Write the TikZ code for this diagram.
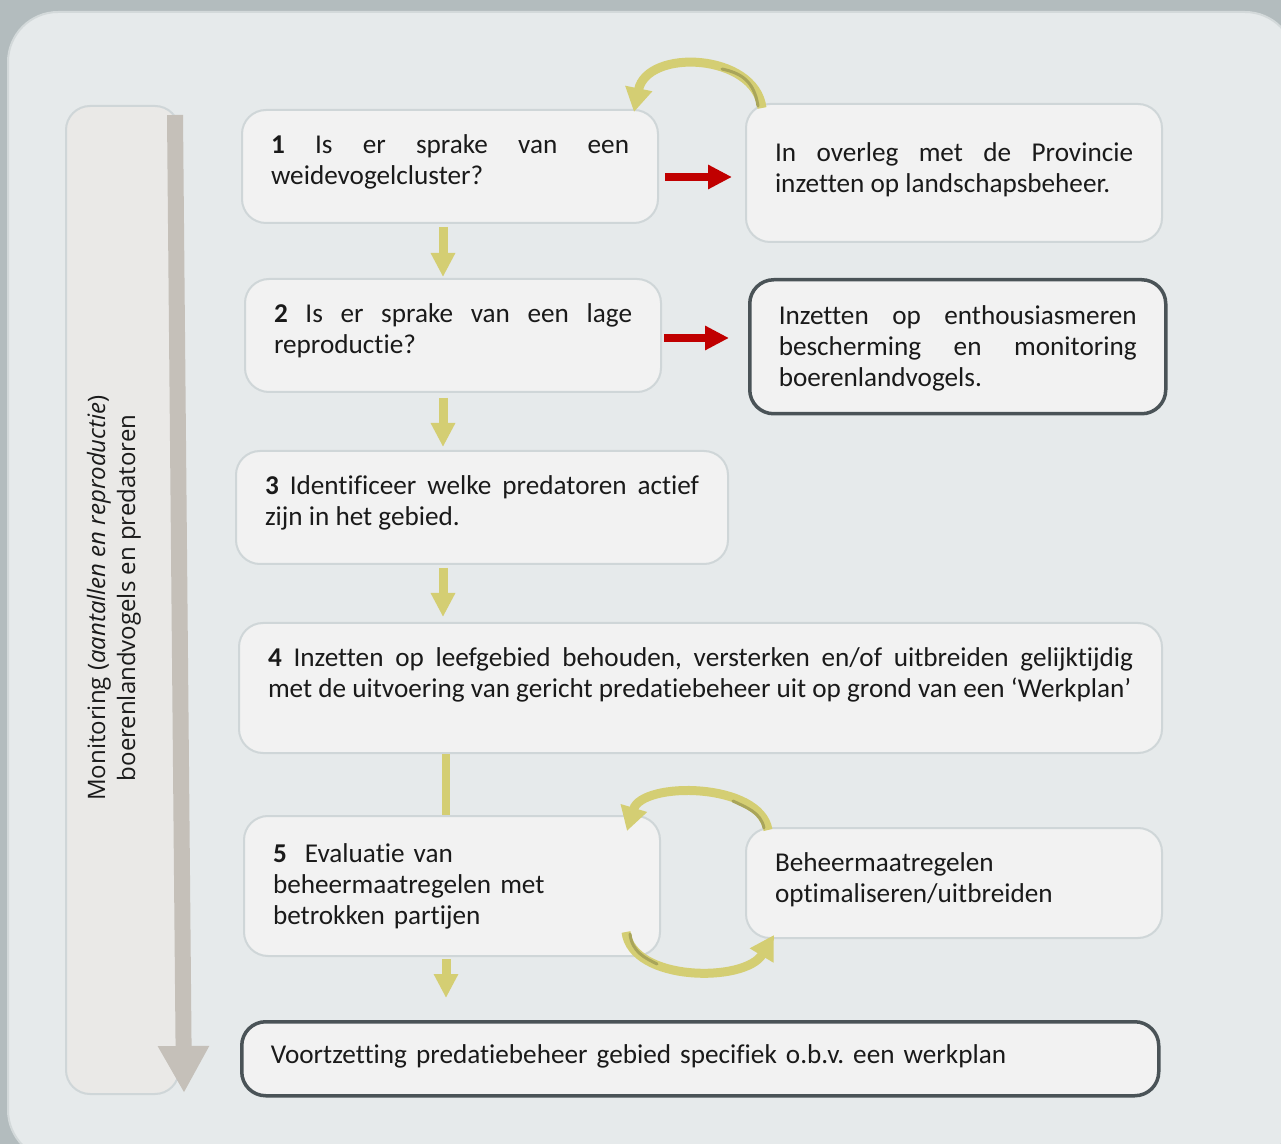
\documentclass[tikz,border=0pt]{standalone}
\usepackage{fontspec}
\setmainfont{Carlito}[Ligatures=NoCommon]
\newfontfamily\monfont{Open Sans}
\usetikzlibrary{arrows.meta}
\frenchspacing

\definecolor{outerbg}{HTML}{B3BCBE}
\definecolor{panel}{HTML}{E6EAEB}
\definecolor{panelline}{HTML}{D3D9DA}
\definecolor{boxfill}{HTML}{F2F2F2}
\definecolor{boxline}{HTML}{CFD6D8}
\definecolor{keyline}{HTML}{4A5357}
\definecolor{monfill}{HTML}{EAE9E7}
\definecolor{track}{HTML}{C5C0B9}
\definecolor{weide}{HTML}{D4CE73}
\definecolor{weidedark}{HTML}{A9A55A}
\definecolor{stopred}{HTML}{C00000}
\definecolor{ink}{HTML}{1A1A1A}

\begin{document}
\begin{tikzpicture}[x=0.5pt, y=-0.5pt,
        stepbox/.style={draw=boxline, line width=1pt, rounded corners=12pt, fill=boxfill, anchor=north west,
            inner xsep=14.5pt, inner ysep=0pt, align=justify, text=ink, font=\fontsize{13.6}{15.5}\selectfont},
        keybox/.style={stepbox, draw=keyline, line width=1.75pt},
        lift/.style={execute at end node={\endgraf\kern#1}},
        monbox/.style={draw=boxline, line width=1pt, rounded corners=12pt, fill=monfill, anchor=north west},
        flow/.style={draw=weide, line width=4.5pt, -{Triangle[length=12pt, width=11.5pt]}},
        nogo/.style={draw=stopred, line width=4pt, -{Triangle[length=12pt, width=11.5pt]}},
        turn/.style={draw=weide, line width=4.5pt, -{Triangle[length=12pt, width=13pt]}},
        turnshade/.style={draw=weidedark, line width=1.5pt, line cap=round},
        bigdown/.style={draw=track, line width=8pt, -{Triangle[length=23.5pt, width=24pt]}}
    ]
    \useasboundingbox (0,0) rectangle (1281,1144);
    \clip (0,0) rectangle (1281,1144);
    \fill[outerbg] (0,0) rectangle (1281,1144);
    \filldraw[fill=panel, draw=panelline, line width=1pt, rounded corners=25pt] (8,12) rectangle (1295,1160);

    % monitoring strip
    \node[monbox, minimum width=56.5pt, minimum height=494pt] (mon) at (65,105) {};
    \node[rotate=90, align=center, text=ink, font=\monfont\fontsize{12}{15}\selectfont] (montxt) at (114,598)
        {Monitoring (\textit{aantallen en reproductie})\\ boerenlandvogels en predatoren};
    \draw[bigdown] ([shift={(-5,10)}]mon.north east) -- ([shift={(4,-2)}]mon.south east);

    % steps
    \node[stepbox, lift=5pt, text width=179pt, minimum height=56.5pt] (q1) at (241,109)
        {\textbf{1} Is er sprake van een\linebreak weidevogelcluster?};
    \node[stepbox, lift=3pt, text width=179pt, minimum height=69pt] (r1) at (745,103)
        {In overleg met de Provincie\linebreak inzetten op landschapsbeheer.};
    \node[stepbox, lift=5pt, text width=179pt, minimum height=56.5pt] (q2) at (244,278)
        {\textbf{2} Is er sprake van een lage\linebreak reproductie?};
    \node[keybox, lift=-2pt, text width=179pt, minimum height=67pt] (r2) at (748,278)
        {Inzetten op enthousiasmeren\linebreak bescherming en monitoring\linebreak boerenlandvogels.};
    \node[stepbox, lift=5pt, text width=217pt, minimum height=56.5pt] (q3) at (235,450)
        {\textbf{3} Identificeer welke predatoren actief\linebreak zijn in het gebied.};
    \node[stepbox, lift=13pt, text width=432.5pt, minimum height=65pt] (q4) at (238,622)
        {\textbf{4} Inzetten op leefgebied behouden, versterken en/of uitbreiden gelijktijdig\linebreak
         met de uitvoering van gericht predatiebeheer uit op grond van een ‘Werkplan’};
    \node[stepbox, align=left, text width=179pt, minimum height=70pt] (q5) at (243,815)
        {\textbf{5}\ \ Evaluatie van\\ beheermaatregelen met\\ betrokken partijen};
    \node[stepbox, lift=3pt, align=left, text width=179pt, minimum height=55pt] (r5) at (745,827)
        {Beheermaatregelen\\ optimaliseren/uitbreiden};
    \node[keybox, lift=2pt, align=left, text width=429.5pt, minimum height=37pt] (final) at (240,1020)
        {Voortzetting predatiebeheer gebied specifiek o.b.v. een werkplan};

    % connectors
    \coordinate (col) at (443,0);
    \coordinate (colb) at (446,0);
    \coordinate (row1) at (0,177);
    \coordinate (row2) at (0,338);
    \draw[flow, shorten <=1.5pt, shorten >=0.5pt] (q1.south -| col) -- (q2.north -| col);
    \draw[flow, shorten <=2.5pt, shorten >=1.5pt] (q2.south -| col) -- (q3.north -| col);
    \draw[flow, shorten <=1.5pt, shorten >=2.5pt] (q3.south -| col) -- (q4.north -| col);
    \draw[draw=weide, line width=4pt] (q4.south -| colb) -- (q5.north -| colb);
    \draw[flow, shorten <=1pt, shorten >=11pt] (q5.south -| colb) -- (final.north -| colb);
    \draw[nogo, shorten <=3pt, shorten >=6.5pt] (q1.east |- row1) -- (r1.west |- row1);
    \draw[nogo, shorten <=1pt, shorten >=9.5pt] (q2.east |- row2) -- (r2.west |- row2);

    % feedback arcs
    \draw[turn] ([shift={(17,5)}]r1.north west) .. controls +(-7,-55) and +(13,-64) .. ([shift={(-25,3)}]q1.north east);
    \draw[turnshade] ([shift={(13,3)}]r1.north west) .. controls +(-4,-26) and +(18,4) .. ([shift={(-23,-34)}]r1.north west);
    \draw[turn] ([shift={(23,3)}]r5.north west) .. controls +(-8,-48) and +(15,-50) .. ([shift={(-34,16)}]q5.north east);
    \draw[turnshade] ([shift={(19,1)}]r5.north west) .. controls +(-3,-16) and +(12,6) .. ([shift={(-12,-26)}]r5.north west);
    \draw[turn] ([shift={(-35,-25)}]q5.south east) .. controls +(6,50) and +(-29,48) .. ([shift={(29,-4)}]r5.south west);
    \draw[turnshade] ([shift={(-31,-23)}]q5.south east) .. controls +(2,18) and +(-12,-6) .. ([shift={(-4,7)}]q5.south east);
\end{tikzpicture}
\end{document}
